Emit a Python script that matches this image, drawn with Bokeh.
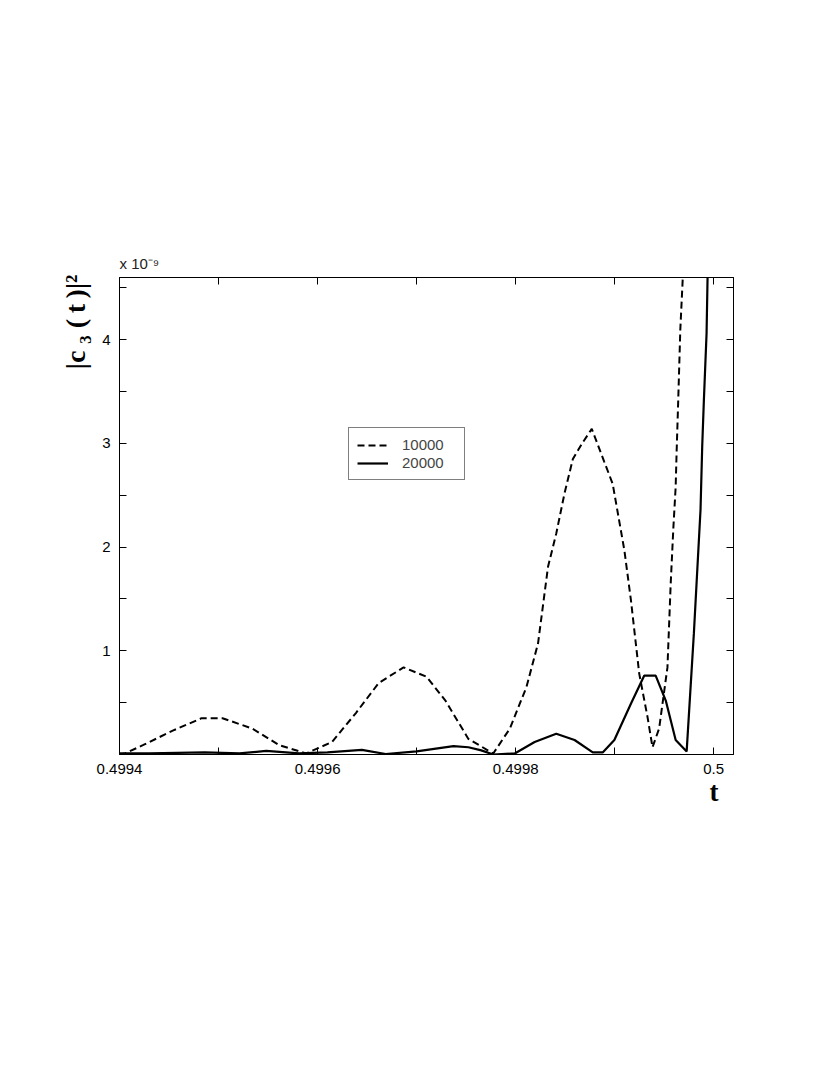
from bokeh.plotting import figure
from bokeh.models import (Range1d, FixedTicker, LinearAxis, Legend, LegendItem, Title)
from bokeh.embed import file_html
from bokeh.resources import INLINE

# ---- data (y values in units of 1e-9) ----
t_10000 = [0.4994000, 0.4994055, 0.4994236, 0.4994538, 0.4994829, 0.4995040, 0.4995342,
           0.4995613, 0.4995884, 0.4996146, 0.4996387, 0.4996618, 0.4996869, 0.4997100,
           0.4997291, 0.4997523, 0.4997774, 0.4997942, 0.4998109, 0.4998226, 0.4998327,
           0.4998410, 0.4998494, 0.4998578, 0.4998678, 0.4998769, 0.4998896, 0.4998980,
           0.4999098, 0.4999164, 0.4999248, 0.4999332, 0.4999382, 0.4999449, 0.4999533,
           0.4999566, 0.4999593, 0.4999616, 0.4999626, 0.4999642, 0.4999663, 0.4999693,
           0.4999713]
c_10000 = [0.00, 0.01, 0.09, 0.23, 0.35, 0.35, 0.25,
           0.09, 0.01, 0.12, 0.40, 0.69, 0.84, 0.75,
           0.52, 0.15, 0.01, 0.25, 0.65, 1.07, 1.81,
           2.13, 2.52, 2.85, 3.01, 3.14, 2.82, 2.61,
           1.97, 1.49, 0.78, 0.36, 0.07, 0.25, 0.84,
           1.65, 2.19, 2.58, 2.93, 3.42, 4.10, 4.70,
           5.50]

t_20000 = [0.4994000, 0.4994300, 0.4994859, 0.4995211, 0.4995482, 0.4995814, 0.4996100,
           0.4996447, 0.4996688, 0.4997000, 0.4997372, 0.4997523, 0.4997653, 0.4997774,
           0.4997991, 0.4998192, 0.4998410, 0.4998595, 0.4998779, 0.4998879, 0.4998997,
           0.4999164, 0.4999298, 0.4999414, 0.4999516, 0.4999616, 0.4999727, 0.4999800,
           0.4999867, 0.4999884, 0.4999901, 0.4999928, 0.4999940, 0.4999950]
c_20000 = [0.01, 0.01, 0.02, 0.01, 0.035, 0.01, 0.02,
           0.045, 0.005, 0.03, 0.08, 0.07, 0.04, 0.00,
           0.01, 0.12, 0.20, 0.14, 0.02, 0.02, 0.14,
           0.49, 0.76, 0.76, 0.52, 0.14, 0.03, 1.17,
           2.36, 2.97, 3.42, 4.06, 4.70, 5.50]

x_ticks = [0.4994, 0.4996, 0.4998, 0.5]
x_minor = [0.4995, 0.4997, 0.4999]
y_ticks = [1, 2, 3, 4]
y_minor = [0.5, 1.5, 2.5, 3.5, 4.5]
series_names = ["10000", "20000"]

p = figure(width=798, height=854, output_backend="svg", toolbar_location=None,
           x_range=Range1d(0.4994, 0.50002), y_range=Range1d(0, 4.6),
           min_border_left=119, min_border_right=65, min_border_top=277,
           min_border_bottom=100, x_axis_location=None, y_axis_location=None)
p.grid.visible = False
p.outline_line_color = "black"
p.outline_line_width = 1
p.background_fill_color = "white"
p.border_fill_color = "white"

def style_axis(ax, ticks, minor, labels=True):
    if labels:
        ax.ticker = FixedTicker(ticks=ticks, minor_ticks=minor)
    else:
        ax.ticker = FixedTicker(ticks=[], minor_ticks=sorted(ticks + minor))
    ax.major_tick_in = 7
    ax.major_tick_out = 0
    ax.minor_tick_in = 7
    ax.minor_tick_out = 0
    ax.major_tick_line_color = "black"
    ax.minor_tick_line_color = "black"
    ax.axis_line_color = "black"
    ax.major_label_text_font = "Liberation Sans"
    ax.major_label_text_font_size = "15px"
    ax.major_label_text_color = "black"
    ax.major_label_standoff = 9 if labels else 0

xb = LinearAxis(); style_axis(xb, x_ticks, x_minor)
xt = LinearAxis(); style_axis(xt, x_ticks, x_minor, labels=False)
yl = LinearAxis(); style_axis(yl, y_ticks, y_minor)
yr = LinearAxis(); style_axis(yr, y_ticks, y_minor, labels=False)
p.add_layout(xb, "below")
p.add_layout(xt, "above")
p.add_layout(yl, "left")
p.add_layout(yr, "right")

r1 = p.line(t_10000, c_10000, line_color="black", line_width=2, line_dash="7 4")
r2 = p.line(t_20000, c_20000, line_color="black", line_width=2.2)

legend = Legend(items=[LegendItem(label=series_names[0], renderers=[r1]),
                       LegendItem(label=series_names[1], renderers=[r2])],
                location=(229, 274), border_line_color="black", border_line_width=1,
                label_text_font="Liberation Sans", label_text_font_size="15px",
                glyph_width=31, glyph_height=16, spacing=1, padding=8, margin=0,
                label_standoff=14, label_width=54, background_fill_alpha=1)
p.add_layout(legend, "center")

# axis titles as panel titles
p.add_layout(Title(text="|c \u2083 (\u2009t\u2009)|\u00b2", align="right", offset=-3,
                   standoff=18, text_font="Liberation Serif", text_font_style="bold",
                   text_font_size="28px", text_color="black"), "left")
p.add_layout(Title(text="t", align="right", offset=15, standoff=-3,
                   text_font="Liberation Serif", text_font_style="bold",
                   text_font_size="27px", text_color="black"), "below")
p.add_layout(Title(text="x 10\u207b\u2079", align="left", offset=0, standoff=11,
                   text_font="Liberation Sans", text_font_style="normal",
                   text_font_size="15px", text_color="#222222"), "above")

open("out.html", "w").write(file_html(p, INLINE))
